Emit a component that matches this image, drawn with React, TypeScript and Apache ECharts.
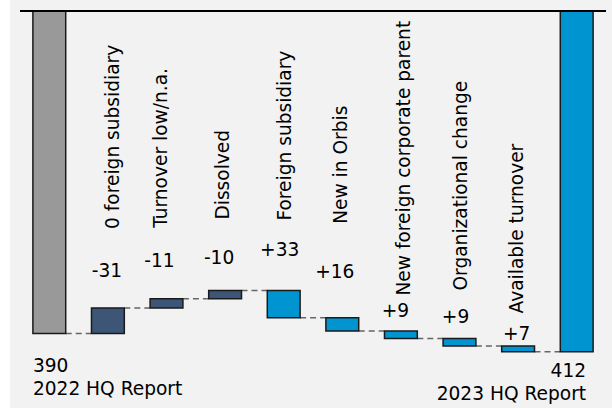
import React, { useEffect, useRef } from "react";
import * as echarts from "echarts";

// ---- data ----
const categories = [
  "2022 HQ Report",
  "0 foreign subsidiary",
  "Turnover low/n.a.",
  "Dissolved",
  "Foreign subsidiary",
  "New in Orbis",
  "New foreign corporate parent",
  "Organizational change",
  "Available turnover",
  "2023 HQ Report",
];
const startTotal = 390;
const endTotal = 412;
const deltas = [-31, -11, -10, 33, 16, 9, 9, 7];

// ---- label placement (px, relative to bar top) ----
const valueLabelDy = [-37, -38.5, -33, -41.5, -46, -20.5, -22, -12];
const valueLabelDx = [-1, -7, -6, -4, -7.5, -5.5, -4, -1.5];
const catLabelDy = [-79, -71, -71, -70, -94, -35.5, -48, -32.5];
const catLabelDx = [4.5, -6, -3, 0.5, -2, 2.5, 1, -1.5];

const FONT = "DejaVu Sans";
const FS = 18.6;
const GREY = "#999999";
const DARK = "#3d5677";
const BLUE = "#0094d0";

export default function App() {
  const ref = useRef<HTMLDivElement>(null);
  useEffect(() => {
    if (!ref.current) return;
    const chart = echarts.init(ref.current, undefined, { renderer: "svg" });

    // build waterfall items: [index, from, to]
    const items: number[][] = [[0, 0, startTotal]];
    let run = startTotal;
    deltas.forEach((d, i) => {
      items.push([i + 1, run, run + d]);
      run += d;
    });
    items.push([categories.length - 1, 0, endTotal]);
    const lastIdx = categories.length - 1;

    const renderItem = (params: any, api: any) => {
      const idx = api.value(0);
      const from = api.value(1);
      const to = api.value(2);
      const pFrom = api.coord([idx, from]);
      const pTo = api.coord([idx, to]);
      const band = api.size([1, 0])[0];
      const bw = band * 0.56;
      const cx = pFrom[0];
      const top = Math.min(pFrom[1], pTo[1]);
      const bottom = Math.max(pFrom[1], pTo[1]);
      let fill = GREY;
      if (idx === lastIdx) fill = BLUE;
      else if (idx > 0) fill = to < from ? DARK : BLUE;
      const children: any[] = [];
      if (idx < lastIdx) {
        children.push({
          type: "line",
          shape: { x1: cx + bw / 2, y1: pTo[1], x2: cx + band - bw / 2, y2: pTo[1] },
          style: { stroke: "#666666", lineWidth: 1.5, lineDash: [6, 4] },
          z2: 1,
        });
      }
      children.push({
        type: "rect",
        shape: { x: cx - bw / 2, y: top, width: bw, height: bottom - top },
        style: { fill, stroke: "#1a1a1a", lineWidth: 1.5 },
        z2: 2,
      });
      if (idx > 0 && idx < lastIdx) {
        const k = idx - 1;
        const d = deltas[k];
        children.push({
          type: "text",
          x: cx + valueLabelDx[k],
          y: top + valueLabelDy[k],
          style: {
            text: (d > 0 ? "+" : "") + d,
            fontFamily: FONT,
            fontSize: FS,
            fill: "#000",
            align: "center",
            verticalAlign: "middle",
          },
          z2: 3,
        });
        children.push({
          type: "text",
          x: cx + catLabelDx[k],
          y: top + catLabelDy[k],
          rotation: Math.PI / 2,
          style: {
            text: categories[idx],
            fontFamily: FONT,
            fontSize: FS,
            fill: "#000",
            align: "left",
            verticalAlign: "middle",
          },
          z2: 3,
        });
      } else {
        const total = idx === 0 ? startTotal : endTotal;
        const left = idx === 0;
        const tx = left ? cx - bw / 2 : cx + bw / 2 - 7;
        const dy1 = left ? 32 : 19;
        children.push({
          type: "text",
          x: tx,
          y: bottom + dy1,
          style: {
            text: String(total),
            fontFamily: FONT,
            fontSize: FS,
            fill: "#000",
            align: left ? "left" : "right",
            verticalAlign: "middle",
          },
        });
        children.push({
          type: "text",
          x: tx,
          y: bottom + dy1 + 23,
          style: {
            text: categories[idx],
            fontFamily: FONT,
            fontSize: FS,
            fill: "#000",
            align: left ? "left" : "right",
            verticalAlign: "middle",
          },
        });
      }
      return { type: "group", children };
    };

    chart.setOption({
      animation: false,
      backgroundColor: "#f2f2f2",
      grid: { left: 10, right: 6, top: 11, height: 397.5 },
      xAxis: {
        type: "category",
        data: categories,
        show: false,
      },
      yAxis: { type: "value", inverse: true, min: 0, max: 480, show: false },
      graphic: [
        {
          type: "rect",
          z: 100,
          shape: { x: 10, y: 10, width: 586, height: 2 },
          style: { fill: "#000000" },
        },
      ],
      series: [
        {
          type: "custom",
          renderItem,
          data: items,
          clip: false,
        },
      ],
    });
    return () => chart.dispose();
  }, []);
  return (
    <div
      ref={ref}
      style={{ position: "fixed", left: 10, top: 0, width: 602, height: 408 }}
    />
  );
}
